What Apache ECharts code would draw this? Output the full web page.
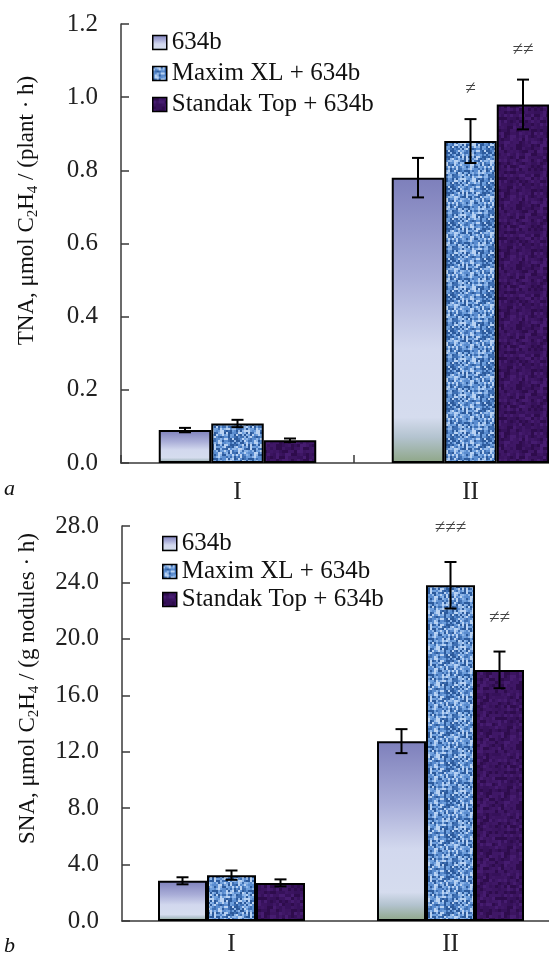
<!DOCTYPE html>
<html lang="en">
<head>
    <meta charset="UTF-8">
    <title>TNA / SNA</title>
    <script src="https://cdn.jsdelivr.net/npm/echarts@6/dist/echarts.min.js"></script>
    <style>
        body { margin: 0; background: #fff; }
    </style>
</head>
<body>
    <div id="main" style="width: 549px;height: 959px"></div>
    <script type="text/javascript">
        // data
        var categories = ['I', 'II'];
        var seriesNames = ['634b', 'Maxim XL + 634b', 'Standak Top + 634b'];

        var tnaMean = [[0.09, 0.78], [0.108, 0.88], [0.062, 0.98]];
        var tnaErr = [[0.006, 0.054], [0.01, 0.06], [0.005, 0.068]];
        var tnaMarks = [['', ''], ['', '≠'], ['', '≠≠']];
        var tnaTicks = [0, 0.2, 0.4, 0.6, 0.8, 1.0, 1.2];

        var snaMean = [[2.85, 12.75], [3.25, 23.8], [2.7, 17.8]];
        var snaErr = [[0.25, 0.85], [0.33, 1.65], [0.25, 1.3]];
        var snaMarks = [['', ''], ['', '≠≠≠'], ['', '≠≠']];
        var snaTicks = [0, 4, 8, 12, 16, 20, 24, 28];

        var FONT = 'Liberation Serif, Times New Roman, serif';

        // little textures for the bar fills
        function noise(x, y, s) {
            var v = Math.sin(x * 12.9898 + y * 78.233 + s * 37.719) * 43758.5453;
            return v - Math.floor(v);
        }
        function makeTexture(size, cell, shades, seed) {
            var c = document.createElement('canvas');
            c.width = size; c.height = size;
            var ctx = c.getContext('2d');
            for (var y = 0; y < size; y += cell) {
                for (var x = 0; x < size; x += cell) {
                    var n = noise(x / cell, y / cell, seed);
                    var idx = Math.min(shades.length - 1, Math.floor(n * shades.length));
                    ctx.fillStyle = shades[idx];
                    ctx.fillRect(x, y, cell, cell);
                }
            }
            return c;
        }

        var fill1 = new echarts.graphic.LinearGradient(0, 0, 0, 1, [
            {offset: 0, color: '#7d7fbb'},
            {offset: 0.35, color: '#aaaed8'},
            {offset: 0.6, color: '#d2d8ee'},
            {offset: 0.84, color: '#d5dcee'},
            {offset: 0.91, color: '#b3c3cf'},
            {offset: 1, color: '#8ea686'}
        ]);
        var fill2 = {
            image: makeTexture(36, 2, ['#2c5a9c', '#3e6fb3', '#5a8ccf', '#6f9fdc', '#8fb6e8', '#b9d2f2'], 1),
            repeat: 'repeat'
        };
        var fill3 = {
            image: makeTexture(60, 3, ['#2e0c4c', '#36115a', '#3b1460', '#3f1766', '#461c70'], 2),
            repeat: 'repeat'
        };
        var fills = [fill1, fill2, fill3];

        function barSeries(means, gridIdx, bw) {
            return means.map(function (vals, k) {
                return {
                    name: seriesNames[k],
                    type: 'bar',
                    xAxisIndex: gridIdx,
                    yAxisIndex: gridIdx,
                    barWidth: bw,
                    barGap: '0%',
                    itemStyle: {color: fills[k], borderColor: '#000', borderWidth: 2},
                    data: vals
                };
            });
        }

        function errSeries(means, errs, marks, gridIdx, bw, markGap) {
            return means.map(function (vals, k) {
                return {
                    type: 'custom',
                    xAxisIndex: gridIdx,
                    yAxisIndex: gridIdx,
                    z: 5,
                    silent: true,
                    data: vals.map(function (v, i) { return [i, v, errs[k][i]]; }),
                    renderItem: function (params, api) {
                        var i = api.value(0), v = api.value(1), e = api.value(2);
                        var hi = api.coord([i, v + e]);
                        var lo = api.coord([i, v - e]);
                        var x = hi[0] + (k - 1) * bw;
                        var cap = 6;
                        var style = {stroke: '#000', lineWidth: 2};
                        var kids = [
                            {type: 'line', shape: {x1: x, y1: hi[1], x2: x, y2: lo[1]}, style: style},
                            {type: 'line', shape: {x1: x - cap, y1: hi[1], x2: x + cap, y2: hi[1]}, style: style},
                            {type: 'line', shape: {x1: x - cap, y1: lo[1], x2: x + cap, y2: lo[1]}, style: style}
                        ];
                        var mark = marks[k][i];
                        if (mark) {
                            kids.push({
                                type: 'text',
                                style: {
                                    text: mark, x: x, y: hi[1] - markGap[i],
                                    align: 'center', verticalAlign: 'middle',
                                    font: '19px ' + FONT, fill: '#444'
                                }
                            });
                        }
                        return {type: 'group', children: kids};
                    }
                };
            });
        }

        function yAxis(gridIdx, ticks, name, shift) {
            return {
                type: 'value',
                gridIndex: gridIdx,
                min: ticks[0],
                max: ticks[ticks.length - 1],
                interval: ticks[1] - ticks[0],
                splitLine: {show: false},
                axisLine: {show: true, lineStyle: {color: '#3a3a3a', width: 1.5}},
                axisTick: {show: true, inside: true, length: 8, lineStyle: {color: '#3a3a3a', width: 1.5}},
                axisLabel: {
                    fontFamily: FONT, fontSize: 25, color: '#222', margin: 23,
                    formatter: function (v) { return v.toFixed(1); }
                },
                name: name,
                nameLocation: 'middle',
                nameRotate: 90,
                nameGap: 80,
                nameTextStyle: {
                    fontFamily: FONT, fontSize: 23, color: '#111',
                    lineHeight: 28,
                    padding: [0, 0, 0, shift],
                    rich: {
                        n: {fontFamily: FONT, fontSize: 23, color: '#111', lineHeight: 28},
                        s: {fontFamily: FONT, fontSize: 15, color: '#111', lineHeight: 15, verticalAlign: 'bottom'}
                    }
                }
            };
        }

        function xAxis(gridIdx, showTick, margin) {
            return {
                type: 'category',
                gridIndex: gridIdx,
                data: categories,
                axisLine: {lineStyle: {color: '#3a3a3a', width: 1.5}},
                axisTick: {show: showTick, inside: true, length: 8, lineStyle: {color: '#3a3a3a', width: 1.5}},
                axisLabel: {fontFamily: FONT, fontSize: 25, color: '#222', margin: margin}
            };
        }

        function legend(left, top, gap) {
            return {
                data: seriesNames,
                orient: 'vertical',
                left: left,
                top: top,
                padding: 0,
                itemGap: gap,
                itemWidth: 14,
                itemHeight: 14,
                icon: 'rect',
                selectedMode: false,
                itemStyle: {borderColor: '#000', borderWidth: 1.5},
                textStyle: {fontFamily: FONT, fontSize: 25, color: '#111'}
            };
        }

        var option = {
            animation: false,
            backgroundColor: '#fff',
            grid: [
                {left: 121, top: 24, height: 439, width: 466, outerBoundsMode: 'none'},
                {left: 122, top: 526, height: 395, width: 438, outerBoundsMode: 'none'}
            ],
            legend: [legend(152, 30, 6), legend(162, 531, 3)],
            xAxis: [xAxis(0, true, 17), xAxis(1, false, 11)],
            yAxis: [
                yAxis(0, tnaTicks, '{n|TNA, μmol C}{s|2}{n|H}{s|4}{n| / (plant · h)}', 66),
                yAxis(1, snaTicks, '{n|SNA, μmol C}{s|2}{n|H}{s|4}{n| / (g nodules · h)}', 70)
            ],
            graphic: [
                {type: 'text', left: 4, top: 478, style: {text: 'a', font: 'italic 22px ' + FONT, fill: '#111'}},
                {type: 'text', left: 4, top: 935, style: {text: 'b', font: 'italic 22px ' + FONT, fill: '#111'}}
            ],
            series: []
                .concat(barSeries(tnaMean, 0, 52.5))
                .concat(barSeries(snaMean, 1, 49))
                .concat(errSeries(tnaMean, tnaErr, tnaMarks, 0, 52.5, [30, 30]))
                .concat(errSeries(snaMean, snaErr, snaMarks, 1, 49, [20, 34]))
        };

        var myChart = echarts.init(document.getElementById('main'));
        myChart.setOption(option);
    </script>
</body>
</html>
